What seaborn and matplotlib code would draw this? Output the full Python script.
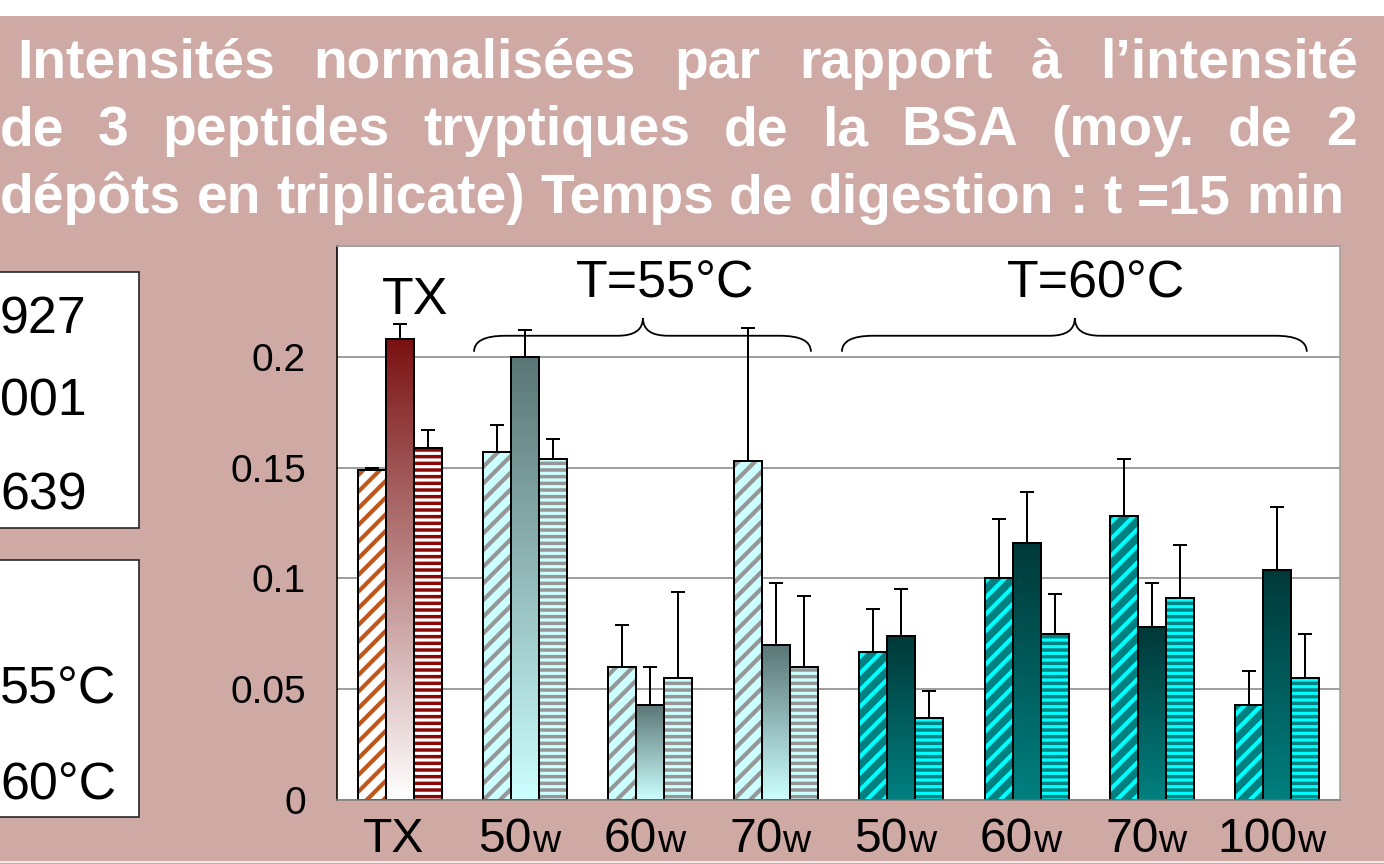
import numpy as np
import pandas as pd
import seaborn as sns
import matplotlib
matplotlib.use("Agg")
import matplotlib.pyplot as plt
from matplotlib.patches import Rectangle, PathPatch
from matplotlib.path import Path
from matplotlib.lines import Line2D
from matplotlib.colors import to_rgb

DPI = 200
W_PX, H_PX = 1384, 864
PT = 72.0 / DPI  # points per pixel

# ---------------- data ----------------
groups = ["TX", "50w 55°C", "60w 55°C", "70w 55°C",
          "50w 60°C", "60w 60°C", "70w 60°C", "100w 60°C"]
tick_main = ["TX", "50", "60", "70", "50", "60", "70", "100"]
tick_suffix = ["", "w", "w", "w", "w", "w", "w", "w"]
condition = ["TX", "55", "55", "55", "60", "60", "60", "60"]
peptides = ["927", "1001", "1639"]

val_927 = [0.149, 0.157, 0.060, 0.153, 0.067, 0.100, 0.128, 0.043]
val_1001 = [0.208, 0.200, 0.043, 0.070, 0.074, 0.116, 0.078, 0.104]
val_1639 = [0.159, 0.154, 0.055, 0.060, 0.037, 0.075, 0.091, 0.055]
err_927 = [0.001, 0.012, 0.019, 0.060, 0.019, 0.027, 0.026, 0.015]
err_1001 = [0.007, 0.012, 0.017, 0.028, 0.021, 0.023, 0.020, 0.028]
err_1639 = [0.008, 0.009, 0.039, 0.032, 0.012, 0.018, 0.024, 0.020]

yticks = [0, 0.05, 0.1, 0.15, 0.2, 0.25]
ytick_labels = ["0", "0.05", "0.1", "0.15", "0.2", ""]

title_lines = ["Intensités normalisées par rapport à l’intensité",
               "de 3 peptides tryptiques de la BSA (moy. de 2",
               "dépôts en triplicate) Temps de digestion : t =15 min"]
box1_texts = ["927", "001", "639"]
box2_texts = ["55°C", "60°C"]

rows = []
for pep, vals, errs in zip(peptides, [val_927, val_1001, val_1639],
                           [err_927, err_1001, err_1639]):
    for g, v, e in zip(groups, vals, errs):
        rows.append((g, pep, v, e))
df = pd.DataFrame(rows, columns=["group", "peptide", "value", "err"])
err_lookup = {(r.group, r.peptide): r.err for r in df.itertuples()}

# ---------------- styles ----------------
BG = "#CFAAA5"
fill_kind = {"927": "diag", "1001": "grad", "1639": "horiz"}
cond_colors = {
    "TX": {"diag": ("#FFFFFF", "#C0561A"), "grad": ("#7A1111", "#FFFFFF"),
           "horiz": ("#FFFFFF", "#8B0808")},
    "55": {"diag": ("#CCFFFF", "#969696"), "grad": ("#5A7575", "#CCFFFF"),
           "horiz": ("#CCFFFF", "#969696")},
    "60": {"diag": ("#008080", "#00FFFF"), "grad": ("#003838", "#008080"),
           "horiz": ("#00FFFF", "#008080")},
}
hatch_pat = {"diag": "////", "horiz": "-----"}
hatch_lw = {"diag": 1.5, "horiz": 1.25}

sns.set_theme(style="white")
plt.rcParams["font.family"] = ["Liberation Sans", "DejaVu Sans"]
plt.rcParams["hatch.linewidth"] = 1.3
plt.rcParams["axes.unicode_minus"] = False

fig = plt.figure(figsize=(W_PX / DPI, H_PX / DPI), dpi=DPI, facecolor=BG)


def fx(px):
    return px / W_PX


def fy(py):
    return 1 - py / H_PX


ax = fig.add_axes([fx(337), fy(800), fx(1340) - fx(337), fy(246) - fy(800)])
ax.set_facecolor("white")

sns.barplot(data=df, x="group", y="value", hue="peptide", order=groups,
            hue_order=peptides, width=0.67, errorbar=None, legend=False,
            saturation=1, palette={p: "#FFFFFF" for p in peptides},
            edgecolor="black", linewidth=2 * PT, zorder=2, ax=ax)

ex, ey, ee = [], [], []
for i, pep in enumerate(peptides):
    for p in ax.containers[i]:
        x0, w, h = p.get_x(), p.get_width(), p.get_height()
        j = int(round(x0 + w / 2))
        kind = fill_kind[pep]
        c1, c2 = cond_colors[condition[j]][kind]
        if kind == "grad":
            p.set_facecolor("none")
            p.set_edgecolor("black")
            grad = np.linspace(to_rgb(c1), to_rgb(c2), 256).reshape(256, 1, 3)
            im = ax.imshow(grad, extent=[x0, x0 + w, 0, h], origin="upper",
                           aspect="auto", zorder=1.9, interpolation="bilinear")
            im.set_clip_path(p)
        else:
            p.set_facecolor(c1)
            p.set_hatch(hatch_pat[kind])
            p.set_edgecolor(c2)
            p.set_linewidth(0)
            if hasattr(p, "set_hatch_linewidth"):
                p.set_hatch_linewidth(hatch_lw[kind])
            ax.add_patch(Rectangle((x0, 0), w, h, fill=False, edgecolor="black",
                                   linewidth=2 * PT, zorder=2.2))
        ex.append(x0 + w / 2)
        ey.append(h)
        ee.append(err_lookup[(groups[j], pep)])

ex, ey, ee = np.array(ex), np.array(ey), np.array(ee)
ax.errorbar(ex, ey, yerr=[np.zeros_like(ee), ee], fmt="none", ecolor="black",
            elinewidth=2 * PT, capsize=7 * PT, capthick=2 * PT, zorder=3)

ax.set_xlim(-0.5, 7.5)
ax.set_ylim(0, 0.25)
ax.set_xlabel("")
ax.set_ylabel("")
ax.set_xticks(range(len(groups)))
ax.set_xticklabels([""] * len(groups))
ax.set_yticks(yticks)
ax.set_yticklabels(ytick_labels)
ax.tick_params(axis="x", length=0)
ax.tick_params(axis="y", direction="out", length=12 * PT, width=1.5 * PT,
               color="black", labelsize=39 * PT, pad=19 * PT, labelcolor="black")
ax.set_axisbelow(True)
ax.yaxis.grid(True, color="#808080", linewidth=1.5 * PT)
ax.xaxis.grid(False)
for side, col in [("left", "black"), ("top", "#A0A0A0"), ("right", "#A0A0A0"),
                  ("bottom", "#808080")]:
    ax.spines[side].set_visible(True)
    ax.spines[side].set_color(col)
    ax.spines[side].set_linewidth(1.6 * PT)


# ---------------- braces & in-plot labels ----------------
def brace(x0, xm, x1, y_end, y_flat, y_tip, d_end, d_tip):
    verts = [(x0, y_end), (x0, y_flat), (x0 + d_end, y_flat),
             (xm - d_tip, y_flat), (xm, y_flat), (xm, y_tip),
             (xm, y_flat), (xm + d_tip, y_flat),
             (x1 - d_end, y_flat), (x1, y_flat), (x1, y_end)]
    codes = [Path.MOVETO, Path.CURVE3, Path.CURVE3,
             Path.LINETO, Path.CURVE3, Path.CURVE3,
             Path.CURVE3, Path.CURVE3,
             Path.LINETO, Path.CURVE3, Path.CURVE3]
    ax.add_patch(PathPatch(Path(verts, codes), fill=False, edgecolor="black",
                           linewidth=1.8 * PT, zorder=4, clip_on=False))


brace(0.593, 1.94, 3.28, 0.2023, 0.2095, 0.2175, 0.25, 0.2)
brace(3.527, 5.385, 7.235, 0.2023, 0.2095, 0.2175, 0.25, 0.2)

lab_size = 52 * PT
ax.text(0.125, 0.2255, "TX", ha="center", va="center", fontsize=lab_size, color="black")
ax.text(2.115, 0.2330, "T=55°C", ha="center", va="center", fontsize=lab_size, color="black")
ax.text(5.55, 0.2330, "T=60°C", ha="center", va="center", fontsize=lab_size, color="black")

# ---------------- figure decorations ----------------
fig.patches.append(Rectangle((0, fy(16)), 1, 16 / H_PX, transform=fig.transFigure,
                             facecolor="white", edgecolor="none", zorder=0))
fig.add_artist(Line2D([0, 1], [fy(862), fy(862)], color="#F3E8E6",
                      linewidth=2 * PT, transform=fig.transFigure))

for (top, bot) in [(272, 528), (560, 817)]:
    fig.patches.append(Rectangle((fx(-5), fy(bot)), fx(144), (bot - top) / H_PX,
                                 transform=fig.transFigure, facecolor="white",
                                 edgecolor="#202020", linewidth=1.6 * PT, zorder=1))
box_size = 52 * PT
for t, b in zip(box1_texts, [334, 415, 509]):
    fig.text(fx(0), fy(b), t, ha="left", va="baseline", fontsize=box_size, color="black")
for t, b in zip(box2_texts, [703, 799]):
    fig.text(fx(0), fy(b), t, ha="left", va="baseline", fontsize=box_size, color="black")

renderer = fig.canvas.get_renderer()


def text_width(s, size, weight="normal"):
    t = fig.text(0, 0, s, fontsize=size, fontweight=weight)
    w = t.get_window_extent(renderer).width
    t.remove()
    return w


# title (justified lines)
base_size = 20.0
w_line3 = text_width(title_lines[2], base_size, "bold")
title_size = base_size * 1344 / w_line3
title_geom = [(17, 1358, 78), (0, 1357, 145), (0, 1344, 213)]
for line, (left, right, base) in zip(title_lines, title_geom):
    words = line.split(" ")
    widths = [text_width(wd, title_size, "bold") for wd in words]
    gap = (right - left - sum(widths)) / (len(words) - 1)
    x = left
    for wd, wdt in zip(words, widths):
        fig.text(fx(x), fy(base), wd, ha="left", va="baseline", fontsize=title_size,
                 fontweight="bold", color="white")
        x += wdt + gap

# x tick labels with small "w"
main_size = 48 * PT
suf_size = 39 * PT
for j, (m, s) in enumerate(zip(tick_main, tick_suffix)):
    xc = ax.transData.transform((j, 0))[0]
    w1 = text_width(m, main_size)
    w2 = text_width(s, suf_size) if s else 0
    start = xc - (w1 + w2) / 2 - 6
    fig.text(fx(start), fy(852), m, ha="left", va="baseline", fontsize=main_size, color="black")
    if s:
        fig.text(fx(start + w1), fy(852), s, ha="left", va="baseline",
                 fontsize=suf_size, color="black")

fig.savefig("out.png", dpi=DPI, facecolor=BG)
